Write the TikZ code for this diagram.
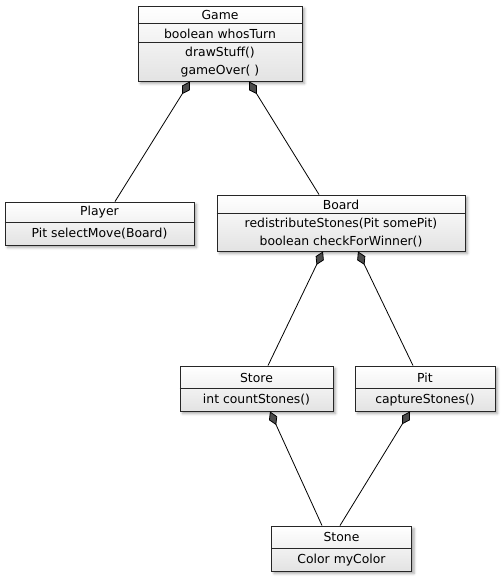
\documentclass[tikz,border=0pt]{standalone}
\usepackage{fontspec}
\setmainfont{DejaVu Sans}
\usetikzlibrary{arrows.meta,shadows.blur}
\begin{document}
\begin{tikzpicture}[x=1pt,y=-1pt,
  classbox/.style={draw=black!85, line width=0.9pt, top color=white, bottom color=black!11,
    blur shadow={shadow xshift=2.5pt, shadow yshift=-2.5pt, shadow blur radius=2.5pt, shadow opacity=35},
    inner sep=0pt},
  divider/.style={draw=black!85, line width=0.9pt},
  txt/.style={font=\fontsize{12.4}{14}\selectfont, inner sep=0pt, anchor=center},
  comp/.style={line width=0.8pt, {Diamond[length=15pt,width=9pt,fill=black!70,color=black]}-}
]
\useasboundingbox (0,0) rectangle (501,578);

% Game
\node[classbox, minimum width=164pt, minimum height=75pt] (game) at (220,43.5) {};
\draw[divider] (game.north west) ++(0,18) -- ++(164,0);
\draw[divider] (game.north west) ++(0,37) -- ++(164,0);
\node[txt] (gameName) at (220,15) {Game};
\node[txt] (gameAttr) at (220,33.5) {boolean whosTurn};
\node[txt] (gameOpA) at (220,52.5) {drawStuff()};
\node[txt] (gameOpB) at (220,71) {gameOver( )};

% Player
\node[classbox, minimum width=189pt, minimum height=43pt] (player) at (99.5,223.5) {};
\draw[divider] (player.north west) ++(0,21) -- ++(189,0);
\node[txt] (playerName) at (99.5,212.5) {Player};
\node[txt] (playerOp) at (99.5,234) {Pit selectMove(Board)};

% Board
\node[classbox, minimum width=248pt, minimum height=56pt] (board) at (341,223) {};
\draw[divider] (board.north west) ++(0,19) -- ++(248,0);
\node[txt] (boardName) at (341,204.5) {Board};
\node[txt] (boardOpA) at (341,223.5) {redistributeStones(Pit somePit)};
\node[txt] (boardOpB) at (341,242) {boolean checkForWinner()};

% Store
\node[classbox, minimum width=153pt, minimum height=45pt] (store) at (256.5,388.5) {};
\draw[divider] (store.north west) ++(0,23) -- ++(153,0);
\node[txt] (storeName) at (256.5,377.5) {Store};
\node[txt] (storeOp) at (256.5,400) {int countStones()};

% Pit
\node[classbox, minimum width=140pt, minimum height=45pt] (pit) at (425,388.5) {};
\draw[divider] (pit.north west) ++(0,23) -- ++(140,0);
\node[txt] (pitName) at (425,377.5) {Pit};
\node[txt] (pitOp) at (425,400) {captureStones()};

% Stone
\node[classbox, minimum width=140pt, minimum height=45pt] (stone) at (341.5,548.5) {};
\draw[divider] (stone.north west) ++(0,23) -- ++(140,0);
\node[txt] (stoneName) at (341.5,537) {Stone};
\node[txt] (stoneAttr) at (341.5,560) {Color myColor};

% Compositions
\draw[comp] ([xshift=-30pt]game.south) -- ([xshift=15.5pt]player.north);
\draw[comp] ([xshift=29pt]game.south) -- ([xshift=-22pt]board.north);
\draw[comp] ([xshift=-18pt]board.south) -- ([xshift=11.5pt]store.north);
\draw[comp] ([xshift=17pt]board.south) -- ([xshift=-12pt]pit.north);
\draw[comp] ([xshift=13.5pt]store.south) -- ([xshift=-19.5pt]stone.north);
\draw[comp] ([xshift=-15pt]pit.south) -- ([xshift=-1.5pt]stone.north);
\end{tikzpicture}
\end{document}
